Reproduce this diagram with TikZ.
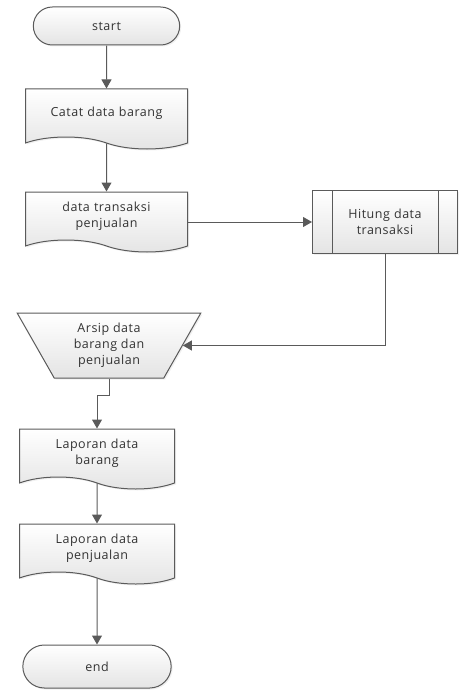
\documentclass[tikz,border=0pt]{standalone}
\usepackage{fontspec}
\setmainfont{Open Sans}[LetterSpace=4]
\usetikzlibrary{positioning, arrows.meta, shapes.geometric, shapes.misc, shapes.symbols, shadows}

\definecolor{flowline}{HTML}{5A5A5A}
\definecolor{flowfill}{HTML}{E4E4E4}
\definecolor{flowtext}{HTML}{333333}

\begin{document}
\begin{tikzpicture}[
    x=1pt, y=1pt,
    font=\fontsize{12.5}{16}\selectfont, text=flowtext,
    basenode/.style={draw=flowline, line width=1pt, top color=white, bottom color=flowfill, align=center,
        drop shadow={opacity=0.12, shadow xshift=1.5pt, shadow yshift=-1.5pt}},
    termnode/.style={basenode, rounded rectangle, minimum height=38pt},
    docnode/.style={basenode, tape, tape bend top=none, tape bend bottom=out and in, tape bend height=12pt,
        minimum width=162pt, minimum height=60pt, text width=140pt},
    subnode/.style={basenode, rectangle, minimum width=145pt, minimum height=63pt, text width=100pt},
    manualnode/.style={basenode, trapezium, shape border rotate=180, trapezium left angle=63,
        trapezium right angle=63, trapezium stretches=true, minimum width=184pt, minimum height=65pt},
    flowarrow/.style={draw=flowline, line width=1pt, -{Triangle[length=9pt, width=10pt]}},
]
\useasboundingbox (0,0) rectangle (474,-690);

\node[termnode, minimum width=153pt](start) at (106.5,-26){start};
\node[docnode](catat)[below = 43pt of start]{Catat data barang};
\node[docnode](transaksi)[below = 54pt of catat]{data transaksi\\penjualan};
\node[subnode](hitung)[right = 124pt of transaksi, yshift=-6pt]{Hitung data\\transaksi};
\draw[flowline, line width=1pt] ([xshift=20pt]hitung.north west) -- ([xshift=20pt]hitung.south west);
\draw[flowline, line width=1pt] ([xshift=-20pt]hitung.north east) -- ([xshift=-20pt]hitung.south east);
\node[manualnode](arsip) at (109,-345.5){Arsip data\\barang dan\\penjualan};
\node[docnode, minimum width=155pt](lapbarang)[below = 50pt of arsip, xshift=-12pt]{Laporan data\\barang};
\node[docnode, minimum width=155pt](lapjual)[below = 46pt of lapbarang]{Laporan data\\penjualan};
\node[termnode, minimum width=155pt, minimum height=43pt](end)[below = 72pt of lapjual]{end};

\draw[flowarrow] (start) -- (catat);
\draw[flowarrow] (catat) -- (transaksi);
\draw[flowarrow] (hitung.west -| transaksi.east) -- (hitung.west);
\draw[flowarrow] (hitung.south) |- (arsip.east);
\draw[flowarrow] (arsip.south) -- ++(0,-17) -| (lapbarang.north);
\draw[flowarrow] (lapbarang) -- (lapjual);
\draw[flowarrow] (lapjual) -- (end);
\end{tikzpicture}
\end{document}
